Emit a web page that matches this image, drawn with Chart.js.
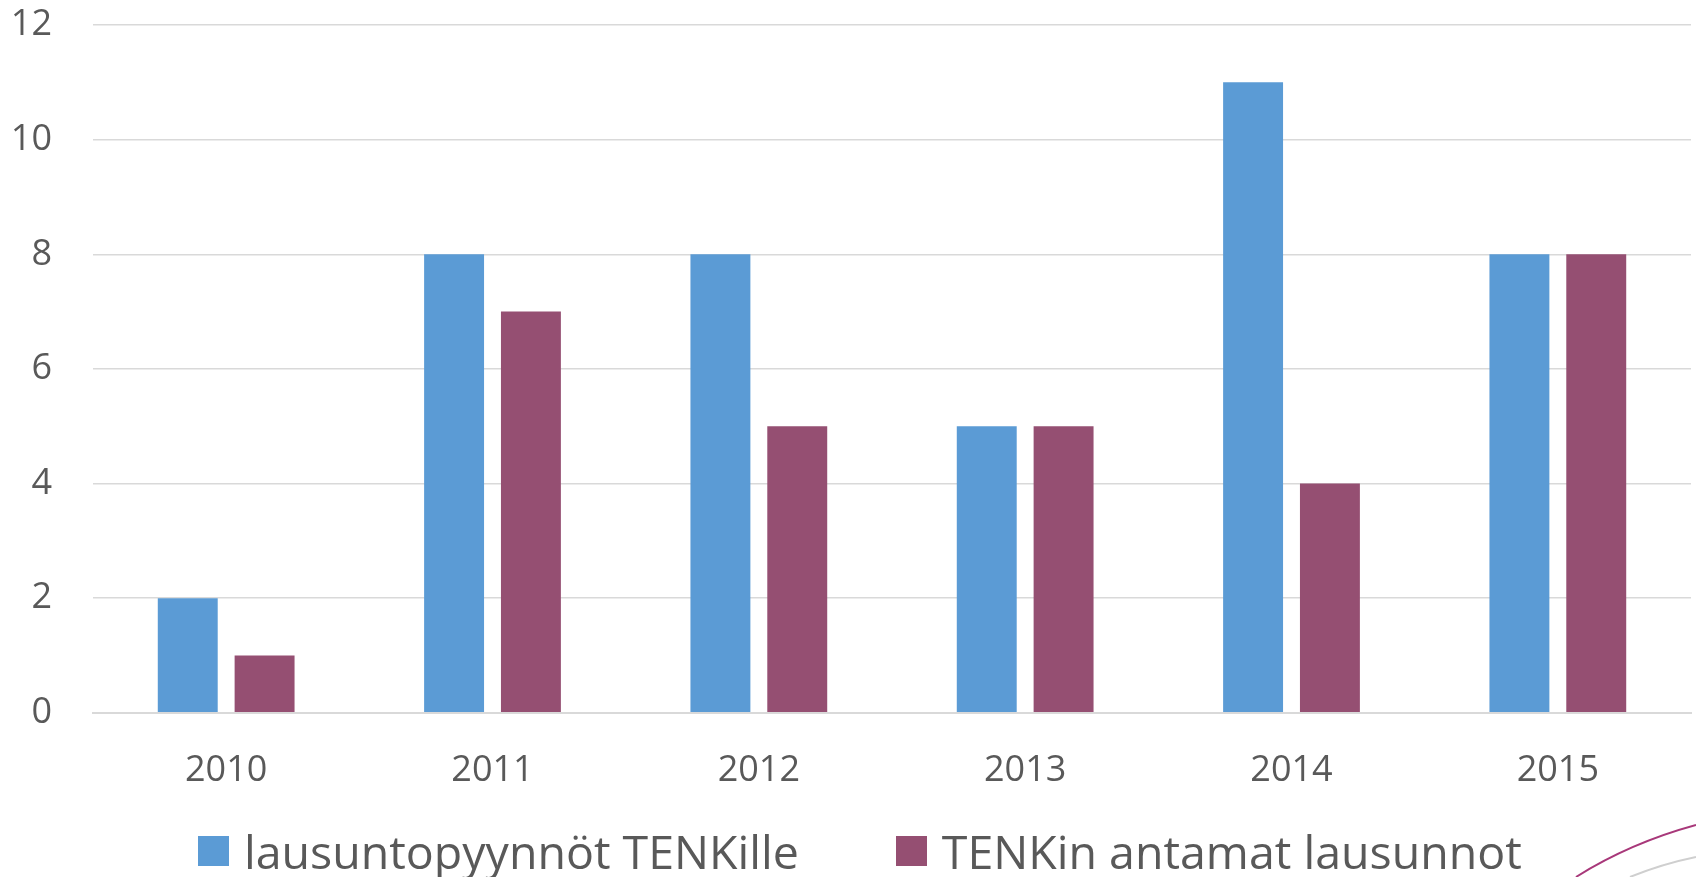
<!DOCTYPE html>
<html>
<head>
<meta charset="utf-8">
<script src="https://cdn.jsdelivr.net/npm/chart.js@4/dist/chart.umd.min.js"></script>
<style>
  html, body { margin: 0; padding: 0; background: #fff; }
  #wrap { position: relative; width: 1696px; height: 877px; overflow: hidden; }
  #legend {
    position: absolute; left: 198px; top: 823px;
    display: flex; align-items: center;
    font-family: "Open Sans", sans-serif;
    font-size: 46.5px; color: #595959; line-height: 56px; white-space: nowrap;
  }
  .item { display: flex; align-items: center; }
  .box { width: 31px; height: 30px; margin-right: 15px; }
  #deco { position: absolute; left: 0; top: 0; pointer-events: none; }
</style>
</head>
<body>
<div id="wrap">
  <canvas id="chart" width="1696" height="877"></canvas>
  <div id="legend"></div>
  <svg id="deco" width="1696" height="877">
    <path d="M1576 877 Q1630 843 1696 825" fill="none" stroke="#a8387a" stroke-width="2"/>
    <path d="M1630 877 Q1662 864 1696 857" fill="none" stroke="#cfcfcf" stroke-width="2"/>
  </svg>
</div>
<script>
const years = ['2010', '2011', '2012', '2013', '2014', '2015'];
const requests = [2, 8, 8, 5, 11, 8];
const statements = [1, 7, 5, 5, 4, 8];
const seriesNames = ['lausuntopyynnöt TENKille', 'TENKin antamat lausunnot'];
const seriesColors = ['#5b9bd5', '#954f72'];

const fontFamily = '"Open Sans", sans-serif';

const ctx = document.getElementById('chart').getContext('2d');
new Chart(ctx, {
  type: 'bar',
  data: {
    labels: years,
    datasets: [
      { label: seriesNames[0], data: requests, backgroundColor: seriesColors[0] },
      { label: seriesNames[1], data: statements, backgroundColor: seriesColors[1] },
    ],
  },
  options: {
    responsive: false,
    animation: false,
    devicePixelRatio: 1,
    layout: { padding: { top: 25, right: 5, bottom: 49, left: 0 } },
    datasets: {
      bar: { categoryPercentage: 0.577, barPercentage: 0.78 },
    },
    plugins: {
      legend: { display: false },
      tooltip: { enabled: false },
    },
    scales: {
      x: {
        grid: { display: false, drawTicks: false },
        border: { display: true, color: '#d9d9d9', width: 2 },
        ticks: { color: '#595959', font: { family: fontFamily, size: 36 }, padding: 36, maxRotation: 0 },
      },
      y: {
        min: 0,
        max: 12,
        ticks: { stepSize: 2, color: '#595959', font: { family: fontFamily, size: 36 }, padding: 41 },
        grid: { color: '#d9d9d9', lineWidth: 1.5, drawTicks: false },
        border: { display: false },
        // fixed axis width, no extra room above/below for the labels
        afterFit: (scale) => {
          scale.width = 93;
          scale.paddingTop = 0;
          scale.paddingBottom = 0;
        },
      },
    },
  },
});

// legend as plain html under the chart
const legend = document.getElementById('legend');
seriesNames.forEach((name, i) => {
  const item = document.createElement('div');
  item.className = 'item';
  if (i > 0) item.style.marginLeft = '97px';
  const box = document.createElement('span');
  box.className = 'box';
  box.style.background = seriesColors[i];
  const text = document.createElement('span');
  text.textContent = name;
  item.appendChild(box);
  item.appendChild(text);
  legend.appendChild(item);
});
</script>
</body>
</html>
